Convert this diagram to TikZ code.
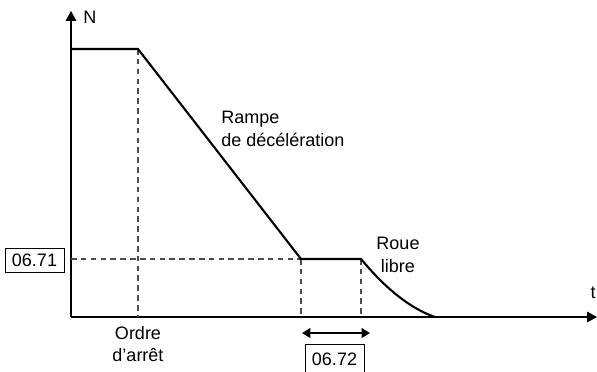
\documentclass[tikz,border=0pt]{standalone}
\usepackage{fontspec}
\setmainfont{Liberation Sans}
\usetikzlibrary{arrows.meta}
\begin{document}
\begin{tikzpicture}[
    x=0.025cm, y=-0.025cm,
    every node/.style={font=\fontsize{12.8}{16}\selectfont, inner sep=0pt},
    axis/.style={line width=0.75pt, -{Triangle[length=7pt, width=7.5pt]}},
    speed/.style={line width=1.5pt},
    guide/.style={line width=0.75pt, dash pattern=on 4pt off 3pt, black!70},
    param/.style={draw, line width=0.6pt, minimum width=42pt, minimum height=17.5pt, inner sep=2pt},
    span/.style={line width=1.3pt, {Triangle[length=6pt, width=7pt]}-{Triangle[length=6pt, width=7pt]}}
]
    \useasboundingbox (0,0) rectangle (597,371);
    % axes
    \coordinate (o) at (71,317);
    \coordinate (ytop) at (71,11);
    \coordinate (xend) at (597,317);
    \draw[axis] (o) -- (ytop);
    \draw[axis] (o) -- (xend);
    \node[anchor=west] (n) at (83,17) {N};
    \node (t) at (593,293) {t};
    % speed profile
    \coordinate (hi0) at (71,49);
    \coordinate (hi1) at (138,49);
    \coordinate (lo0) at (301,259);
    \coordinate (lo1) at (361,259);
    \coordinate (stop) at (435,317);
    \draw[guide] (hi1) -- (138,317);
    \draw[guide] (lo0) -- (301,317);
    \draw[guide] (lo1) -- (361,317);
    \draw[guide] (71,259) -- (lo0);
    \draw[speed] (hi0) -- (hi1) -- (lo0) -- (lo1)
        .. controls (372,272) and (400,305) .. (stop);
    % labels
    \node[anchor=west, align=left] (rampe) at (221,129) {Rampe\\de décélération};
    \node[align=center] (roue) at (398,255) {Roue\\libre};
    \node[align=center] (ordre) at (138,344) {Ordre\\d’arrêt};
    \node[param] (p71) at (34.5,260.5) {06.71};
    \coordinate (s0) at (302,333);
    \coordinate (s1) at (370,333);
    \draw[span] (s0) -- (s1);
    \node[param, minimum height=21pt, anchor=north] (p72) at (334.5,344) {06.72};
\end{tikzpicture}
\end{document}
